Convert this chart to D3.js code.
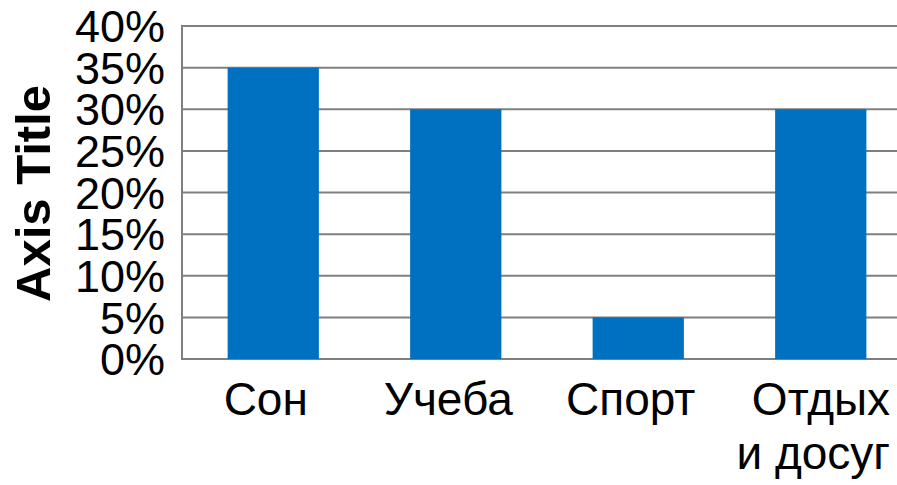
<!DOCTYPE html>
<html>
<head>
<meta charset="utf-8">
<script src="https://cdn.jsdelivr.net/npm/d3@7"></script>
<style>
  html, body { margin: 0; padding: 0; background: #fff; overflow: hidden; }
  svg { display: block; }
</style>
</head>
<body>
<svg id="chart" width="897" height="485"></svg>
<script>
const categories = [["Сон"], ["Учеба"], ["Спорт"], ["Отдых", "и досуг"]];
const values = [0.35, 0.30, 0.05, 0.30];
const yTicks = [0, 0.05, 0.10, 0.15, 0.20, 0.25, 0.30, 0.35, 0.40];
const axisTitle = "Axis Title";

(function () {
const svg = d3.select("#chart");
const font = "'Liberation Sans', Arial, sans-serif";
const pLeft = 182, pRight = 912, pTop = 26, pBottom = 359;

const x = d3.scaleBand()
  .domain(categories.map(c => c.join(" ")))
  .range([pLeft, pRight])
  .paddingInner(0.5)
  .paddingOuter(0.25);

const y = d3.scaleLinear().domain([0, 0.4]).range([pBottom, pTop]);

// gridlines
svg.append("g")
  .selectAll("line")
  .data(yTicks)
  .join("line")
  .attr("x1", pLeft).attr("x2", pRight)
  .attr("y1", d => y(d)).attr("y2", d => y(d))
  .attr("stroke", "#7f7f7f")
  .attr("stroke-width", 2);

// bars
svg.append("g")
  .selectAll("rect")
  .data(values)
  .join("rect")
  .attr("x", (d, i) => x(categories[i].join(" ")))
  .attr("width", x.bandwidth())
  .attr("y", d => y(d))
  .attr("height", d => y(0) - y(d))
  .attr("fill", "#0070c0");

// axis line
svg.append("line")
  .attr("x1", pLeft).attr("x2", pLeft)
  .attr("y1", pTop - 1).attr("y2", pBottom + 1)
  .attr("stroke", "#7f7f7f")
  .attr("stroke-width", 2);

// y axis labels
const fmt = d3.format(".0%");
svg.append("g")
  .selectAll("text")
  .data(yTicks)
  .join("text")
  .attr("x", 165)
  .attr("y", d => y(d))
  .attr("dy", "0.36em")
  .attr("text-anchor", "end")
  .attr("font-family", font)
  .attr("font-size", 45)
  .attr("fill", "#000")
  .text(d => fmt(d));

// x axis labels (multi-line labels: lines right-aligned within a centred block)
const labelShift = -7.5;
const xg = svg.append("g")
  .attr("font-family", font)
  .attr("font-size", 46)
  .attr("fill", "#000");
categories.forEach(lines => {
  const cx = x(lines.join(" ")) + x.bandwidth() / 2 + labelShift;
  const texts = lines.map((line, i) =>
    xg.append("text").attr("y", 415 + i * 54).text(line));
  const widths = texts.map(t => t.node().getComputedTextLength());
  const maxW = d3.max(widths);
  if (lines.length === 1) {
    texts[0].attr("x", cx).attr("text-anchor", "middle");
  } else {
    texts.forEach(t => t.attr("x", cx + maxW / 2).attr("text-anchor", "end"));
  }
});

// axis title
svg.append("text")
  .attr("transform", `translate(50, ${(pTop + pBottom) / 2 + 1}) rotate(-90)`)
  .attr("text-anchor", "middle")
  .attr("font-family", font)
  .attr("font-weight", "bold")
  .attr("font-size", 49)
  .attr("fill", "#000")
  .text(axisTitle);
})();
</script>
</body>
</html>
